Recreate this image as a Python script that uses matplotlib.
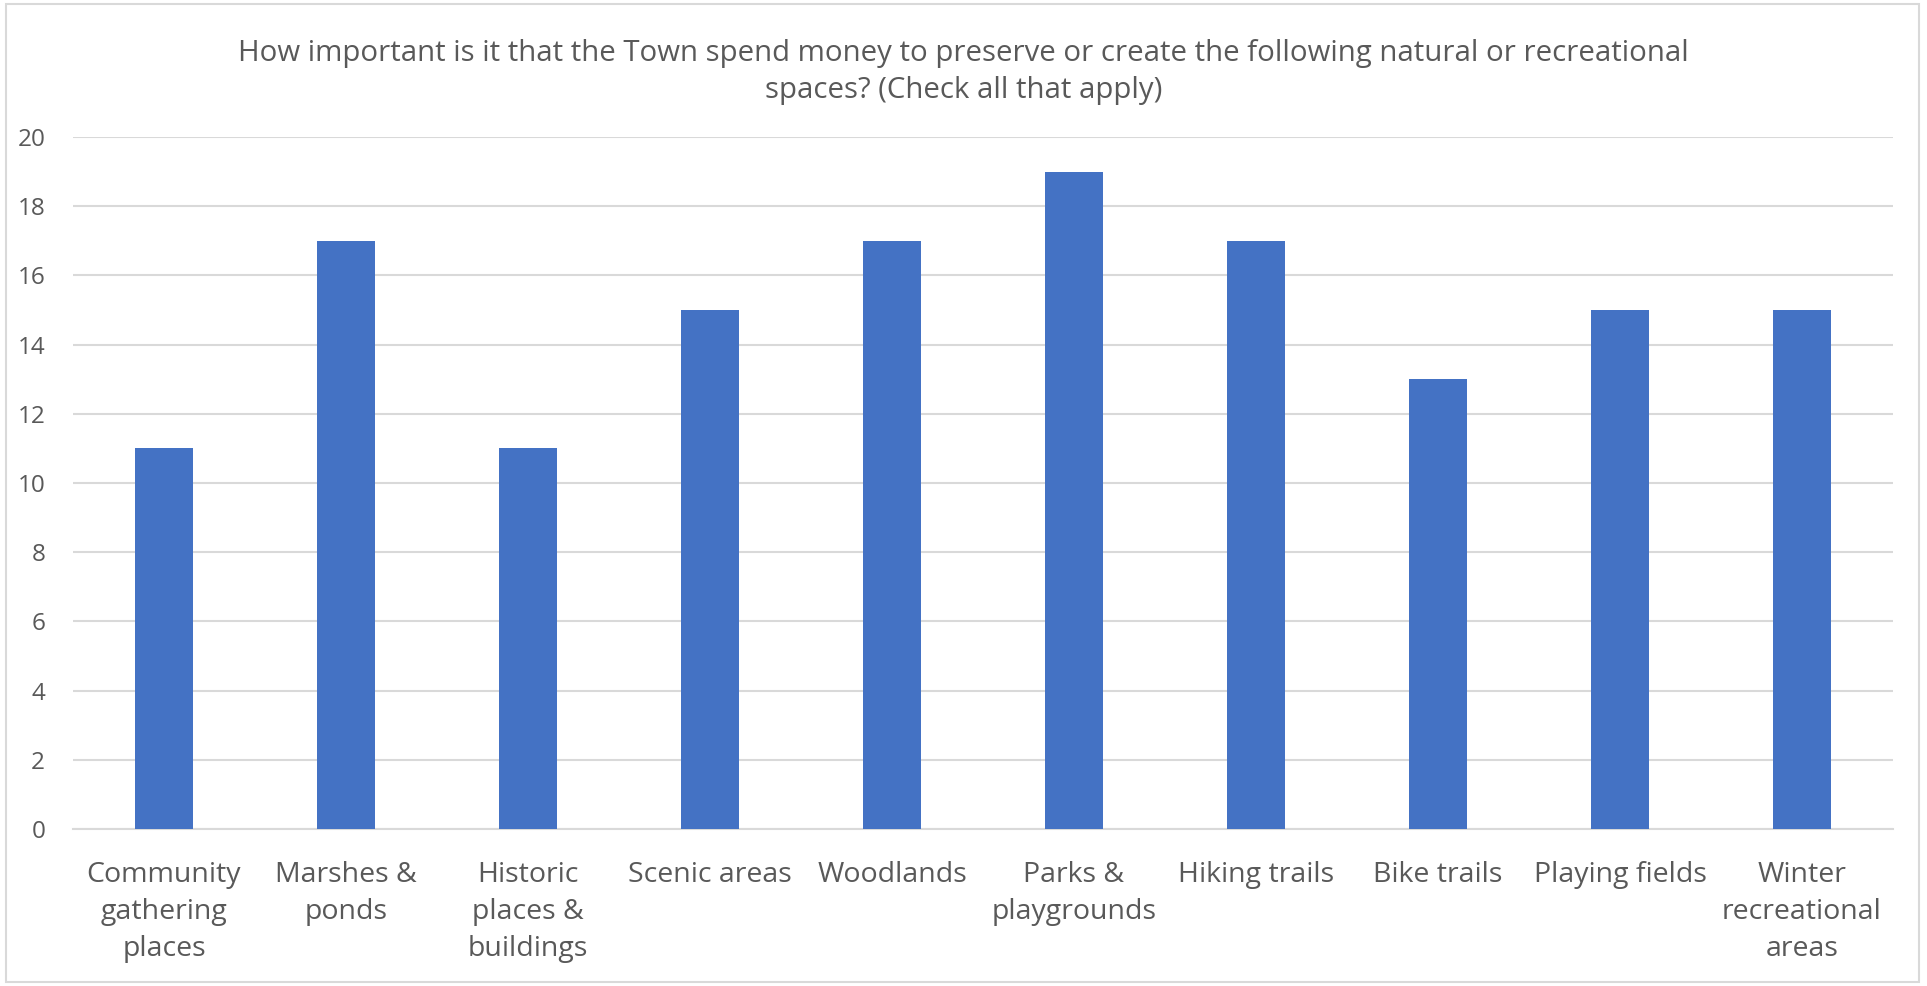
import matplotlib.pyplot as plt

categories = ['Community\ngathering\nplaces', 'Marshes &\nponds', 'Historic\nplaces &\nbuildings',
              'Scenic areas', 'Woodlands', 'Parks &\nplaygrounds', 'Hiking trails',
              'Bike trails', 'Playing fields', 'Winter\nrecreational\nareas']
counts = [11, 17, 11, 15, 17, 19, 17, 13, 15, 15]
yticks = [0, 2, 4, 6, 8, 10, 12, 14, 16, 18, 20]

title = ('How important is it that the Town spend money to preserve or create the following natural or recreational\n'
         'spaces? (Check all that apply)')

plt.rcParams['font.family'] = ['Open Sans', 'DejaVu Sans']
text_color = '#595959'
grid_color = '#D9D9D9'

fig = plt.figure(figsize=(19.27, 9.86), dpi=100)
ax = fig.add_axes([73 / 1927, 1 - 829 / 986, (1893 - 73) / 1927, (829 - 137) / 986])

x = range(len(categories))
ax.bar(x, counts, width=0.318, color='#4472C4', zorder=3)

ax.set_xlim(-0.5, len(categories) - 0.5)
ax.set_ylim(0, 20)
ax.set_yticks(yticks)
ax.set_xticks(list(x))
ax.set_xticklabels(categories, fontsize=20.5, color=text_color, linespacing=1.43)
ax.tick_params(axis='x', length=0, pad=23)
ax.tick_params(axis='y', length=0, pad=20, labelsize=17.5, labelcolor=text_color)

ax.grid(axis='y', color=grid_color, linewidth=1.5, zorder=0)
for s in ['top', 'right', 'left']:
    ax.spines[s].set_visible(False)
ax.spines['bottom'].set_color(grid_color)
ax.spines['bottom'].set_linewidth(1.5)

fig.text(0.5, 1 - 72 / 986, title, ha='center', va='center', fontsize=21.2,
         color=text_color, linespacing=1.35)

# light chart border
border = plt.Rectangle((6 / 1927, 4 / 986), 1 - 14 / 1927, 1 - 8 / 986, transform=fig.transFigure,
                       fill=False, edgecolor=grid_color, linewidth=1.5)
fig.patches.append(border)

fig.savefig('out.png', dpi=100, facecolor='white')
